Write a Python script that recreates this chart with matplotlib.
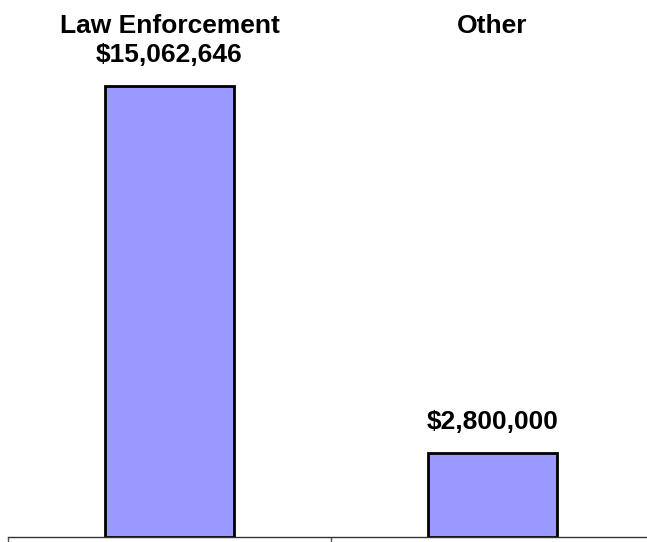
import matplotlib
matplotlib.use("Agg")
import matplotlib.pyplot as plt

categories = ["Law Enforcement", "Other"]
values = [15062646, 2800000]

plt.rcParams['font.family'] = ['Liberation Sans', 'DejaVu Sans']

W, H, DPI = 647, 542, 100
fig = plt.figure(figsize=(W / DPI, H / DPI), dpi=DPI)
left_px, bottom_px = 8, 5
ax = fig.add_axes([left_px / W, bottom_px / H, 646 / W, (H - bottom_px) / H])

x = list(range(len(categories)))
ax.bar(x, values, width=0.40, color="#9999FF", edgecolor="black", linewidth=2.0, zorder=2)

ax.set_xlim(-0.5, len(categories) - 0.5)
ax.set_ylim(0, 17.93e6)

for s in ["top", "left", "right"]:
    ax.spines[s].set_visible(False)
ax.spines["bottom"].set_color("#333333")
ax.spines["bottom"].set_linewidth(1.0)
ax.set_yticks([])
ax.set_xticks([i - 0.5 for i in range(len(categories) + 1)])
ax.set_xticklabels([])
ax.tick_params(axis="x", direction="out", length=5, width=1.0, color="#555555")

for i, (c, v) in enumerate(zip(categories, values)):
    ax.annotate(c, xy=(i, 1.0), xycoords=("data", "axes fraction"),
                xytext=(0, -33), textcoords="offset pixels",
                ha="center", va="baseline", fontsize=19, fontweight="bold")
    ax.annotate(f"${v:,.0f}", xy=(i, v), xytext=(0, 24), textcoords="offset pixels",
                ha="center", va="baseline", fontsize=19, fontweight="bold")

fig.savefig("out.png", dpi=DPI)
